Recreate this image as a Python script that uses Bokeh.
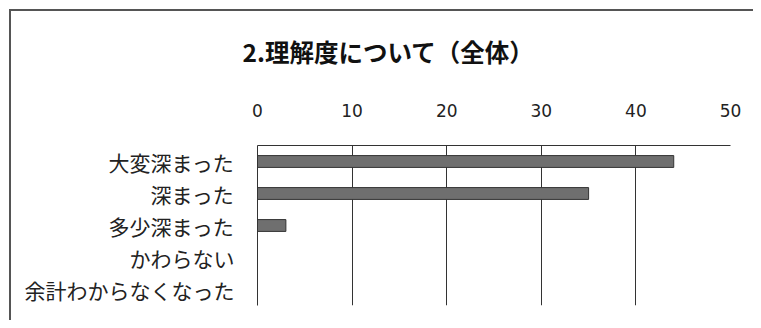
from bokeh.plotting import figure
from bokeh.models import Range1d, FactorRange, Title
from bokeh.embed import file_html
from bokeh.resources import INLINE

title_text = "2.理解度について（全体）"
categories = ["大変深まった", "深まった", "多少深まった", "かわらない", "余計わからなくなった"]
values = [44, 35, 3, 0, 0]
x_ticks = [0, 10, 20, 30, 40, 50]

FONT = "Noto Sans CJK JP"

p = figure(
    width=753, height=320,
    y_range=FactorRange(factors=list(reversed(categories)), range_padding=0),
    x_range=Range1d(0, 50),
    x_axis_location="above",
    output_backend="svg", toolbar_location=None,
    min_border_left=257, min_border_right=23, min_border_top=144, min_border_bottom=15,
)
p.title = None
p.add_layout(Title(text=title_text, text_font=FONT, text_font_size="24.5px",
                   text_font_style="bold", text_color="#111", align="left",
                   offset=-15, standoff=63), "above")

p.hbar(y=categories, left=0, right=values, height=0.37,
       fill_color="#6f6f6f", line_color="#333333", line_width=1)

p.outline_line_color = None
p.background_fill_color = "white"
p.border_fill_color = "white"
p.border_fill_alpha = 0

# outer chart-area border (top and left edges; the others fall outside the picture)
p.styles = {
    "background-color": "white",
    "background-image": "linear-gradient(#555555, #555555), linear-gradient(#555555, #555555)",
    "background-position": "left 9px top 9px, left 9px top 9px",
    "background-size": "2px 100%, 100% 2px",
    "background-repeat": "no-repeat",
}

xa = p.xaxis[0]
xa.ticker = x_ticks
xa.axis_line_color = "#333333"
xa.major_tick_in = 0
xa.major_tick_out = 0
xa.minor_tick_line_color = None
xa.major_label_standoff = 29
xa.major_label_text_font = "DejaVu Sans"
xa.major_label_text_font_size = "17px"
xa.major_label_text_color = "#222"

ya = p.yaxis[0]
ya.axis_line_color = "#333333"
ya.major_tick_line_color = None
ya.minor_tick_line_color = None
ya.major_label_standoff = 17
ya.major_label_text_font = FONT
ya.major_label_text_font_size = "21px"
ya.major_label_text_color = "#222"

p.xgrid.grid_line_color = "#333333"
p.xgrid.ticker = x_ticks
p.ygrid.grid_line_color = None

open("out.html", "w").write(file_html(p, INLINE))
